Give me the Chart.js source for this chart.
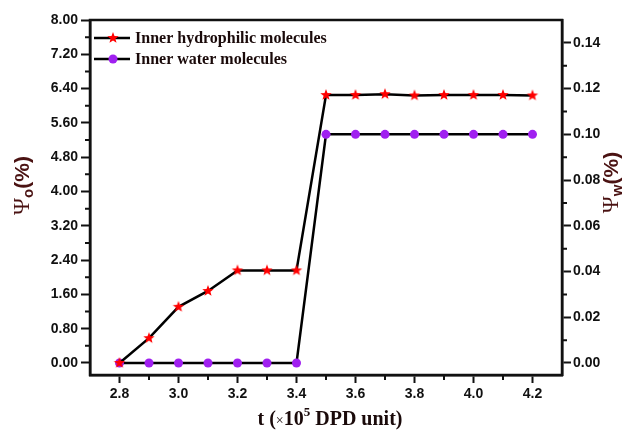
<!DOCTYPE html>
<html>
<head>
<meta charset="utf-8">
<script src="https://cdn.jsdelivr.net/npm/chart.js@4.4.1/dist/chart.umd.min.js"></script>
<style>
  html, body { margin: 0; padding: 0; background: #fff; }
  #wrap { width: 640px; height: 432px; }
</style>
</head>
<body>
<div id="wrap"><canvas id="chart" width="640" height="432"></canvas></div>
<script>
// time steps (x 10^5 DPD unit)
const times = [2.8, 2.9, 3.0, 3.1, 3.2, 3.3, 3.4, 3.5, 3.6, 3.7, 3.8, 3.9, 4.0, 4.1, 4.2];
// Psi_o (%) - inner hydrophilic molecules, left axis
const hydrophilic = [0.00, 0.58, 1.31, 1.68, 2.16, 2.16, 2.16, 6.25, 6.25, 6.27, 6.24, 6.25, 6.25, 6.25, 6.24];
// Psi_w (%) - inner water molecules, right axis
const water = [0.000, 0.000, 0.000, 0.000, 0.000, 0.000, 0.000, 0.100, 0.100, 0.100, 0.100, 0.100, 0.100, 0.100, 0.100];

const seriesNames = ['Inner hydrophilic molecules', 'Inner water molecules'];

const xTicks = [2.8, 3.0, 3.2, 3.4, 3.6, 3.8, 4.0, 4.2];
const xMinor = [2.9, 3.1, 3.3, 3.5, 3.7, 3.9, 4.1];
const yLeftTicks = [0, 0.8, 1.6, 2.4, 3.2, 4.0, 4.8, 5.6, 6.4, 7.2, 8.0];
const yLeftMinor = [0.4, 1.2, 2.0, 2.8, 3.6, 4.4, 5.2, 6.0, 6.8, 7.6];
const yRightTicks = [0, 0.02, 0.04, 0.06, 0.08, 0.10, 0.12, 0.14];
const yRightMinor = [0.01, 0.03, 0.05, 0.07, 0.09, 0.11, 0.13];

const RED = '#ff0000';
const PURPLE = '#a020f0';
const INK = '#111111';
const TITLE_INK = '#4a1212';

// red filled five-point star used as point marker
function makeStar(r, color) {
  const size = r * 2 + 2;
  const c = document.createElement('canvas');
  c.width = size; c.height = size;
  const g = c.getContext('2d');
  const cx = size / 2, cy = size / 2, inner = r * 0.42;
  g.beginPath();
  for (let i = 0; i < 10; i++) {
    const rad = i % 2 === 0 ? r : inner;
    const a = -Math.PI / 2 + i * Math.PI / 5;
    const px = cx + rad * Math.cos(a), py = cy + rad * Math.sin(a);
    if (i === 0) g.moveTo(px, py); else g.lineTo(px, py);
  }
  g.closePath();
  g.fillStyle = color;
  g.fill();
  return c;
}
const starImg = makeStar(6, RED);

const tickFont = { family: '"Liberation Sans", Arial, sans-serif', size: 14, weight: 'bold' };

function fixedTicks(values) {
  return scale => { scale.ticks = values.map(v => ({ value: v })); };
}

// minor ticks, frame, legend and axis titles
const decorations = {
  id: 'decorations',
  afterDraw(chart) {
    const ctx = chart.ctx;
    const a = chart.chartArea;
    const sx = chart.scales.x, yl = chart.scales.y, yr = chart.scales.y1;
    ctx.save();
    ctx.strokeStyle = INK;
    ctx.lineWidth = 2;
    ctx.beginPath();
    xMinor.forEach(v => { const p = sx.getPixelForValue(v); ctx.moveTo(p, a.bottom); ctx.lineTo(p, a.bottom + 5); });
    yLeftMinor.forEach(v => { const p = yl.getPixelForValue(v); ctx.moveTo(a.left, p); ctx.lineTo(a.left - 5, p); });
    yRightMinor.forEach(v => { const p = yr.getPixelForValue(v); ctx.moveTo(a.right, p); ctx.lineTo(a.right + 5, p); });
    ctx.stroke();

    // frame
    ctx.lineWidth = 2.5;
    ctx.strokeRect(a.left, a.top, a.right - a.left, a.bottom - a.top);

    // legend
    ctx.textBaseline = 'middle';
    ctx.textAlign = 'left';
    ctx.font = 'bold 16px "Liberation Serif", "Times New Roman", serif';
    chart.data.datasets.forEach((ds, i) => {
      const y = a.top + 18 + i * 21;
      const x0 = a.left + 4;
      ctx.strokeStyle = '#000';
      ctx.lineWidth = 2.5;
      ctx.beginPath(); ctx.moveTo(x0, y); ctx.lineTo(x0 + 36, y); ctx.stroke();
      if (ds.pointStyle instanceof HTMLCanvasElement) {
        ctx.drawImage(ds.pointStyle, x0 + 19 - ds.pointStyle.width / 2, y - ds.pointStyle.height / 2);
      } else {
        ctx.fillStyle = ds.pointBackgroundColor;
        ctx.beginPath(); ctx.arc(x0 + 19, y, ds.pointRadius, 0, Math.PI * 2); ctx.fill();
      }
      ctx.fillStyle = '#1a0a0a';
      ctx.fillText(ds.label, x0 + 41, y + 1);
    });

    // axis titles
    drawPsiTitle(ctx, 'o', 23, (a.top + a.bottom) / 2 - 12);
    drawPsiTitle(ctx, 'w', 612, (a.top + a.bottom) / 2 - 15);

    ctx.fillStyle = '#1a0a0a';
    ctx.textBaseline = 'alphabetic';
    const serif = '"Liberation Serif", "Times New Roman", serif';
    const parts = [
      ['t (', 'bold 20px ' + serif, 0],
      ['\u00d7', '14px ' + serif, 0],
      ['10', 'bold 20px ' + serif, 0],
      ['5', 'bold 13px ' + serif, -9],
      [' DPD unit)', 'bold 20px ' + serif, 0]
    ];
    let total = 0;
    parts.forEach(p => { ctx.font = p[1]; total += ctx.measureText(p[0]).width; });
    let x = (a.left + a.right) / 2 - total / 2 + 4;
    parts.forEach(p => { ctx.font = p[1]; ctx.fillText(p[0], x, 425 + p[2]); x += ctx.measureText(p[0]).width; });
    ctx.restore();
  }
};

function drawPsiTitle(ctx, sub, cx, cy) {
  const sans = '"Liberation Sans", Arial, sans-serif';
  const parts = [
    ['\u03a8', '23px "Liberation Serif", "Times New Roman", serif', 0],
    [sub, 'bold 15px ' + sans, 6],
    ['(%)', 'bold 21px ' + sans, 0]
  ];
  ctx.save();
  ctx.translate(cx, cy);
  ctx.rotate(-Math.PI / 2);
  ctx.fillStyle = TITLE_INK;
  ctx.textBaseline = 'middle';
  ctx.textAlign = 'left';
  let total = 0;
  parts.forEach(p => { ctx.font = p[1]; total += ctx.measureText(p[0]).width; });
  let x = -total / 2;
  parts.forEach(p => { ctx.font = p[1]; ctx.fillText(p[0], x, p[2]); x += ctx.measureText(p[0]).width; });
  ctx.restore();
}

new Chart(document.getElementById('chart'), {
  type: 'line',
  data: {
    datasets: [{
      label: seriesNames[0],
      data: times.map((t, i) => ({ x: t, y: hydrophilic[i] })),
      yAxisID: 'y',
      borderColor: '#000',
      borderWidth: 2.5,
      pointStyle: starImg,
      pointRadius: 6,
      tension: 0
    }, {
      label: seriesNames[1],
      data: times.map((t, i) => ({ x: t, y: water[i] })),
      yAxisID: 'y1',
      borderColor: '#000',
      borderWidth: 2.5,
      pointStyle: 'circle',
      pointRadius: 4.5,
      pointBackgroundColor: PURPLE,
      pointBorderColor: PURPLE,
      pointBorderWidth: 0,
      tension: 0
    }]
  },
  options: {
    responsive: false,
    animation: false,
    layout: { padding: { top: 20, left: 0, right: 0, bottom: 0 } },
    plugins: { legend: { display: false }, tooltip: { enabled: false } },
    scales: {
      x: {
        type: 'linear',
        min: 2.7, max: 4.3,
        afterBuildTicks: fixedTicks(xTicks),
        afterFit: s => { s.height = 57; },
        grid: { drawOnChartArea: false, tickLength: 8, tickWidth: 2, tickColor: INK },
        border: { color: INK, width: 2.5 },
        ticks: { color: INK, font: tickFont, padding: 3, maxRotation: 0, callback: v => v.toFixed(1) }
      },
      y: {
        position: 'left',
        min: -0.28, max: 8.0,
        afterBuildTicks: fixedTicks(yLeftTicks),
        afterFit: s => { s.width = 90; },
        grid: { drawOnChartArea: false, tickLength: 9, tickWidth: 2, tickColor: INK },
        border: { color: INK, width: 2.5 },
        ticks: { color: INK, font: tickFont, padding: 3, callback: v => v.toFixed(2) }
      },
      y1: {
        position: 'right',
        min: -0.00525, max: 0.15,
        afterBuildTicks: fixedTicks(yRightTicks),
        afterFit: s => { s.width = 78; },
        grid: { drawOnChartArea: false, tickLength: 9, tickWidth: 2, tickColor: INK },
        border: { color: INK, width: 2.5 },
        ticks: { color: INK, font: tickFont, padding: 2, callback: v => v.toFixed(2) }
      }
    }
  },
  plugins: [decorations]
});
</script>
</body>
</html>
